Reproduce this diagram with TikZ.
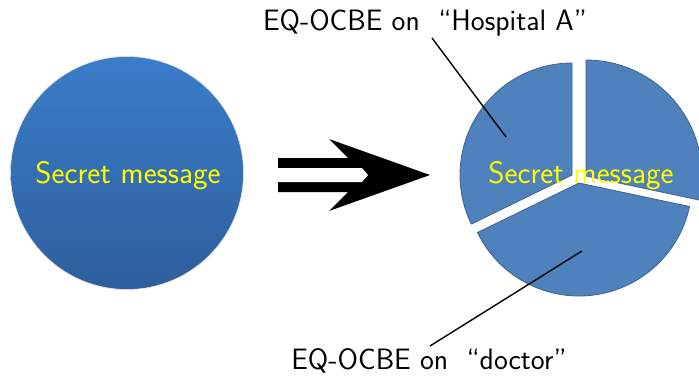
\documentclass[tikz,border=0pt]{standalone}
\usepackage{fontspec}
\begin{document}
\begin{tikzpicture}[x=1pt,y=1pt,
  txt/.style={font=\sffamily\fontsize{29.5}{34}\selectfont, inner sep=0pt, anchor=base},
  msg/.style={font=\sffamily\fontsize{31}{36}\selectfont, inner sep=0pt, anchor=base, text=msgyellow},
  slice/.style={fill=pieblue, draw=pieedge, line width=0.8pt, line join=round},
  leader/.style={draw=black, line width=1.4pt}]
\definecolor{pieblue}{RGB}{79,129,189}
\definecolor{pieedge}{RGB}{60,100,145}
\definecolor{ctop}{RGB}{58,125,202}
\definecolor{cbot}{RGB}{46,94,156}
\definecolor{msgyellow}{RGB}{255,255,0}
\useasboundingbox (0,0) rectangle (699,376);
% left circle
\node[circle, minimum size=233pt, inner sep=0pt, top color=ctop, bottom color=cbot, draw=gray!25, line width=0.6pt] (whole) at (127,203) {};
\node[msg] (msgL) at (128,193) {Secret message};
% big arrow
\fill[black] (278,218) -- (348,218) -- (329,237) -- (430,201) -- (329,165) -- (348,184) -- (278,184) -- cycle;
\fill[white] (278,208) -- (362,208) -- (368,201) -- (362,194) -- (278,194) -- cycle;
% pie slices
\path[slice] (572,201) -- ++(90:112pt) arc[start angle=90, end angle=206, radius=112pt] -- cycle;
\path[slice] (586,200) -- ++(-12:116pt) arc[start angle=-12, end angle=90, radius=116pt] -- cycle;
\path[slice] (579,193) -- ++(206:113pt) arc[start angle=206, end angle=348, radius=113pt] -- cycle;
\node[msg] (msgR) at (581,193) {Secret message};
% labels
\node[txt] (labA) at (425,345) {EQ-OCBE on \ “Hospital A”};
\node[txt] (labD) at (429,7) {EQ-OCBE on \ “doctor”};
\coordinate (hA) at (432,338);
\coordinate (sA) at (506,239);
\coordinate (hD) at (430,30);
\coordinate (sD) at (582,125);
\draw[leader] (hA) -- (sA);
\draw[leader] (hD) -- (sD);
\end{tikzpicture}
\end{document}
